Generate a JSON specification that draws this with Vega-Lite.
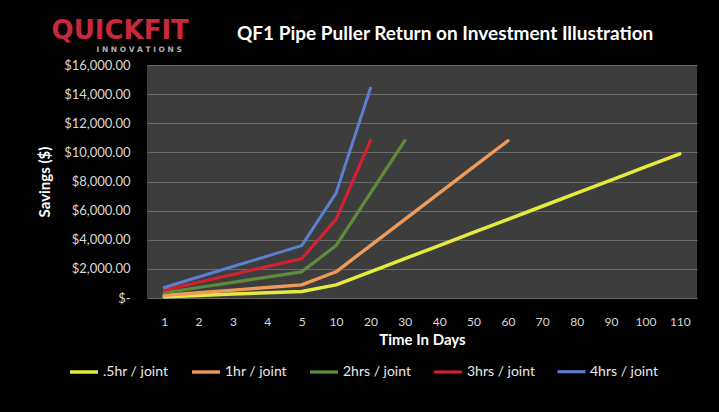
{
  "$schema": "https://vega.github.io/schema/vega-lite/v6.json",
  "autosize": {"type": "none"},
  "width": 550,
  "height": 233,
  "padding": {"left": 147, "top": 65, "right": 22, "bottom": 114},
  "background": "#000000",
  "title": {
    "text": "QF1 Pipe Puller Return on Investment Illustration",
    "anchor": "start",
    "frame": "group",
    "dx": 90,
    "offset": -26,
    "color": "#ffffff",
    "font": "Lato",
    "fontSize": 19,
    "fontWeight": "bold"
  },
  "config": {
    "view": {"fill": "#3d3d3d", "stroke": null},
    "font": "Lato"
  },
  "datasets": {
    "savings": [
      {"day": 1, "series": ".5hr / joint", "savings": 90},
      {"day": 2, "series": ".5hr / joint", "savings": 180},
      {"day": 3, "series": ".5hr / joint", "savings": 270},
      {"day": 4, "series": ".5hr / joint", "savings": 360},
      {"day": 5, "series": ".5hr / joint", "savings": 450},
      {"day": 10, "series": ".5hr / joint", "savings": 900},
      {"day": 20, "series": ".5hr / joint", "savings": 1800},
      {"day": 30, "series": ".5hr / joint", "savings": 2700},
      {"day": 40, "series": ".5hr / joint", "savings": 3600},
      {"day": 50, "series": ".5hr / joint", "savings": 4500},
      {"day": 60, "series": ".5hr / joint", "savings": 5400},
      {"day": 70, "series": ".5hr / joint", "savings": 6300},
      {"day": 80, "series": ".5hr / joint", "savings": 7200},
      {"day": 90, "series": ".5hr / joint", "savings": 8100},
      {"day": 100, "series": ".5hr / joint", "savings": 9000},
      {"day": 110, "series": ".5hr / joint", "savings": 9900},
      {"day": 1, "series": "1hr / joint", "savings": 180},
      {"day": 2, "series": "1hr / joint", "savings": 360},
      {"day": 3, "series": "1hr / joint", "savings": 540},
      {"day": 4, "series": "1hr / joint", "savings": 720},
      {"day": 5, "series": "1hr / joint", "savings": 900},
      {"day": 10, "series": "1hr / joint", "savings": 1800},
      {"day": 20, "series": "1hr / joint", "savings": 3600},
      {"day": 30, "series": "1hr / joint", "savings": 5400},
      {"day": 40, "series": "1hr / joint", "savings": 7200},
      {"day": 50, "series": "1hr / joint", "savings": 9000},
      {"day": 60, "series": "1hr / joint", "savings": 10800},
      {"day": 1, "series": "2hrs / joint", "savings": 360},
      {"day": 2, "series": "2hrs / joint", "savings": 720},
      {"day": 3, "series": "2hrs / joint", "savings": 1080},
      {"day": 4, "series": "2hrs / joint", "savings": 1440},
      {"day": 5, "series": "2hrs / joint", "savings": 1800},
      {"day": 10, "series": "2hrs / joint", "savings": 3600},
      {"day": 20, "series": "2hrs / joint", "savings": 7200},
      {"day": 30, "series": "2hrs / joint", "savings": 10800},
      {"day": 1, "series": "3hrs / joint", "savings": 540},
      {"day": 2, "series": "3hrs / joint", "savings": 1080},
      {"day": 3, "series": "3hrs / joint", "savings": 1620},
      {"day": 4, "series": "3hrs / joint", "savings": 2160},
      {"day": 5, "series": "3hrs / joint", "savings": 2700},
      {"day": 10, "series": "3hrs / joint", "savings": 5400},
      {"day": 20, "series": "3hrs / joint", "savings": 10800},
      {"day": 1, "series": "4hrs / joint", "savings": 720},
      {"day": 2, "series": "4hrs / joint", "savings": 1440},
      {"day": 3, "series": "4hrs / joint", "savings": 2160},
      {"day": 4, "series": "4hrs / joint", "savings": 2880},
      {"day": 5, "series": "4hrs / joint", "savings": 3600},
      {"day": 10, "series": "4hrs / joint", "savings": 7200},
      {"day": 20, "series": "4hrs / joint", "savings": 14400}
    ],
    "logo": [{"brand": "QUICKFIT", "sub": "I N N O V A T I O N S"}]
  },
  "layer": [
    {
      "data": {"name": "savings"},
      "mark": {"type": "line", "interpolate": "linear", "strokeJoin": "round", "strokeCap": "round"},
      "encoding": {
        "x": {
          "field": "day",
          "type": "ordinal",
          "scale": {"type": "point", "padding": 0.5, "domain": [1, 2, 3, 4, 5, 10, 20, 30, 40, 50, 60, 70, 80, 90, 100, 110]},
          "axis": {
            "title": "Time In Days",
            "labelAngle": 0,
            "domain": false,
            "ticks": false,
            "tickSize": 0,
            "grid": false,
            "labelColor": "#d8d8d8",
            "labelFontSize": 12,
            "labelPadding": 18,
            "titleColor": "#ffffff",
            "titleFontSize": 15,
            "titleFontWeight": "bold",
            "titlePadding": 5
          }
        },
        "y": {
          "field": "savings",
          "type": "quantitative",
          "scale": {"domain": [0, 16000], "nice": false},
          "axis": {
            "title": "Savings ($)",
            "values": [0, 2000, 4000, 6000, 8000, 10000, 12000, 14000, 16000],
            "tickCount": 20,
            "labelExpr": "datum.value == 0 ? '$-\u00a0\u00a0\u00a0' : '$' + format(datum.value, ',.2f')",
            "labelOverlap": false,
            "grid": true,
            "gridColor": "#6a6a6a",
            "gridWidth": 1,
            "domain": false,
            "ticks": false,
            "tickSize": 0,
            "labelColor": "#d8d8d8",
            "labelFontSize": 13,
            "labelPadding": 17,
            "titleColor": "#ffffff",
            "titleFontSize": 15,
            "titleFontWeight": "bold",
            "titlePadding": 11
          }
        },
        "color": {
          "field": "series",
          "type": "nominal",
          "scale": {
            "domain": [".5hr / joint", "1hr / joint", "2hrs / joint", "3hrs / joint", "4hrs / joint"],
            "range": ["#e6ea3e", "#f09a5a", "#5f8c3a", "#d42030", "#5a80d0"]
          },
          "legend": {
            "orient": "none",
            "legendX": -79,
            "legendY": 291,
            "direction": "horizontal",
            "title": null,
            "symbolType": "stroke",
            "symbolSize": 784,
            "symbolStrokeWidth": 3,
            "labelColor": "#e8e8e8",
            "labelFontSize": 14,
            "labelFont": "Lato",
            "columnPadding": 16,
            "padding": 0,
            "labelOffset": 3
          }
        },
        "strokeWidth": {
          "field": "series",
          "type": "ordinal",
          "scale": {
            "domain": [".5hr / joint", "1hr / joint", "2hrs / joint", "3hrs / joint", "4hrs / joint"],
            "range": [3.5, 3, 3, 4.5, 3]
          },
          "legend": null
        }
      }
    },
    {
      "data": {"name": "logo"},
      "mark": {"type": "text", "font": "DejaVu Sans", "fontSize": 26, "fontWeight": "bold", "color": "#c8283c", "align": "center", "baseline": "middle", "dx": -44, "dy": -34},
      "encoding": {
        "text": {"field": "brand"},
        "x": {"datum": 1, "type": "ordinal"},
        "y": {"datum": 16000, "type": "quantitative"}
      }
    },
    {
      "data": {"name": "logo"},
      "mark": {"type": "text", "font": "DejaVu Sans", "fontSize": 7.5, "fontWeight": "bold", "color": "#b0b0b0", "align": "center", "baseline": "middle", "dx": -25, "dy": -15},
      "encoding": {
        "text": {"field": "sub"},
        "x": {"datum": 1, "type": "ordinal"},
        "y": {"datum": 16000, "type": "quantitative"}
      }
    }
  ]
}
